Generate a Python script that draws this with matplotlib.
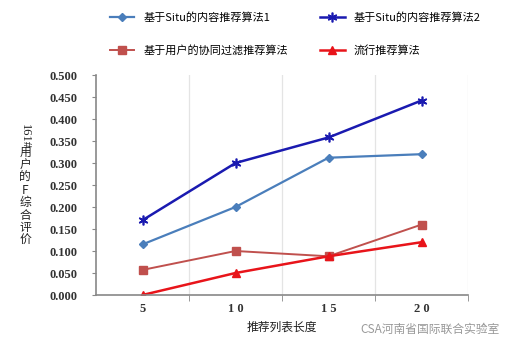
import matplotlib.pyplot as plt
from matplotlib.ticker import FixedLocator

plt.rcParams['font.family'] = ['Noto Sans CJK SC', 'DejaVu Sans']

# data
lengths = ["5", "1 0", "1 5", "2 0"]
labels = ["基于Situ的内容推荐算法1", "基于Situ的内容推荐算法2",
          "基于用户的协同过滤推荐算法", "流行推荐算法"]
situ1 = [0.115, 0.200, 0.312, 0.320]
situ2 = [0.170, 0.300, 0.358, 0.442]
usercf = [0.057, 0.100, 0.088, 0.160]
popular = [0.000, 0.050, 0.088, 0.120]
yticks = [0.0, 0.05, 0.1, 0.15, 0.2, 0.25, 0.3, 0.35, 0.4, 0.45, 0.5]

fig = plt.figure(figsize=(5.2, 3.52), dpi=100)
ax = fig.add_axes([96/520, 1-295/352, 372/520, 220/352])

x = range(len(lengths))
l1, = ax.plot(x, situ1, color="#4a7ebb", marker="D", ms=4.5, lw=1.6)
l2, = ax.plot(x, situ2, color="#1a1ab0", marker=(6, 2, 0), ms=7, mew=1.2, lw=1.8)
l3, = ax.plot(x, usercf, color="#c0504d", marker="s", ms=6, lw=1.4)
l4, = ax.plot(x, popular, color="#e8141a", marker="^", ms=6, lw=1.8)

ax.set_xlim(-0.5, 3.5)
ax.set_ylim(0, 0.5)
ax.set_xticks(list(x))
ax.set_xticklabels(lengths, fontfamily="Liberation Serif", fontweight="bold", fontsize=9, color="#333333")
ax.xaxis.set_minor_locator(FixedLocator([0.5, 1.5, 2.5, 3.5]))
ax.tick_params(axis="x", which="major", length=0, pad=6)
ax.tick_params(axis="x", which="minor", length=4, color="#888888")
ax.set_yticks(yticks)
ax.set_yticklabels(["%.3f" % v for v in yticks], fontfamily="Liberation Serif",
                   fontweight="bold", fontsize=9, color="#333333")
ax.tick_params(axis="y", length=3, color="#888888", pad=10)
for v in [0.5, 1.5, 2.5, 3.5]:
    ax.axvline(v, color="#e4e4e4", lw=0.9, zorder=0)
for s in ["top", "right"]:
    ax.spines[s].set_visible(False)
for s in ["left", "bottom"]:
    ax.spines[s].set_color("#888888")
    ax.spines[s].set_linewidth(1.2)

ax.set_xlabel("推荐列表长度", fontsize=8.5, color="#222222", labelpad=4)

# y label: digits sideways, CJK characters stacked
fig.text(25/520, 1-136/352, "161#", rotation=270, fontsize=9, color="#222222",
         ha="center", va="center", fontfamily="Liberation Serif")
fig.text(25/520, 1-146/352, "\n".join("用户的F综合评价"), fontsize=8.5, color="#222222",
         ha="center", va="top", linespacing=0.95)

fig.legend([l1, l3, l2, l4], [labels[0], labels[2], labels[1], labels[3]], ncol=2,
           loc="upper left", bbox_to_anchor=(100/520, 0.995), frameon=False,
           handlelength=2.2, columnspacing=2.9, labelspacing=2.0,
           prop={"family": ["Noto Sans CJK SC", "DejaVu Sans"], "size": 8})

fig.text(360/520, 1-329/352, "CSA河南省国际联合实验室", fontsize=8.5, color="#999999",
         ha="left", va="center")

fig.savefig("out.png", dpi=100)
